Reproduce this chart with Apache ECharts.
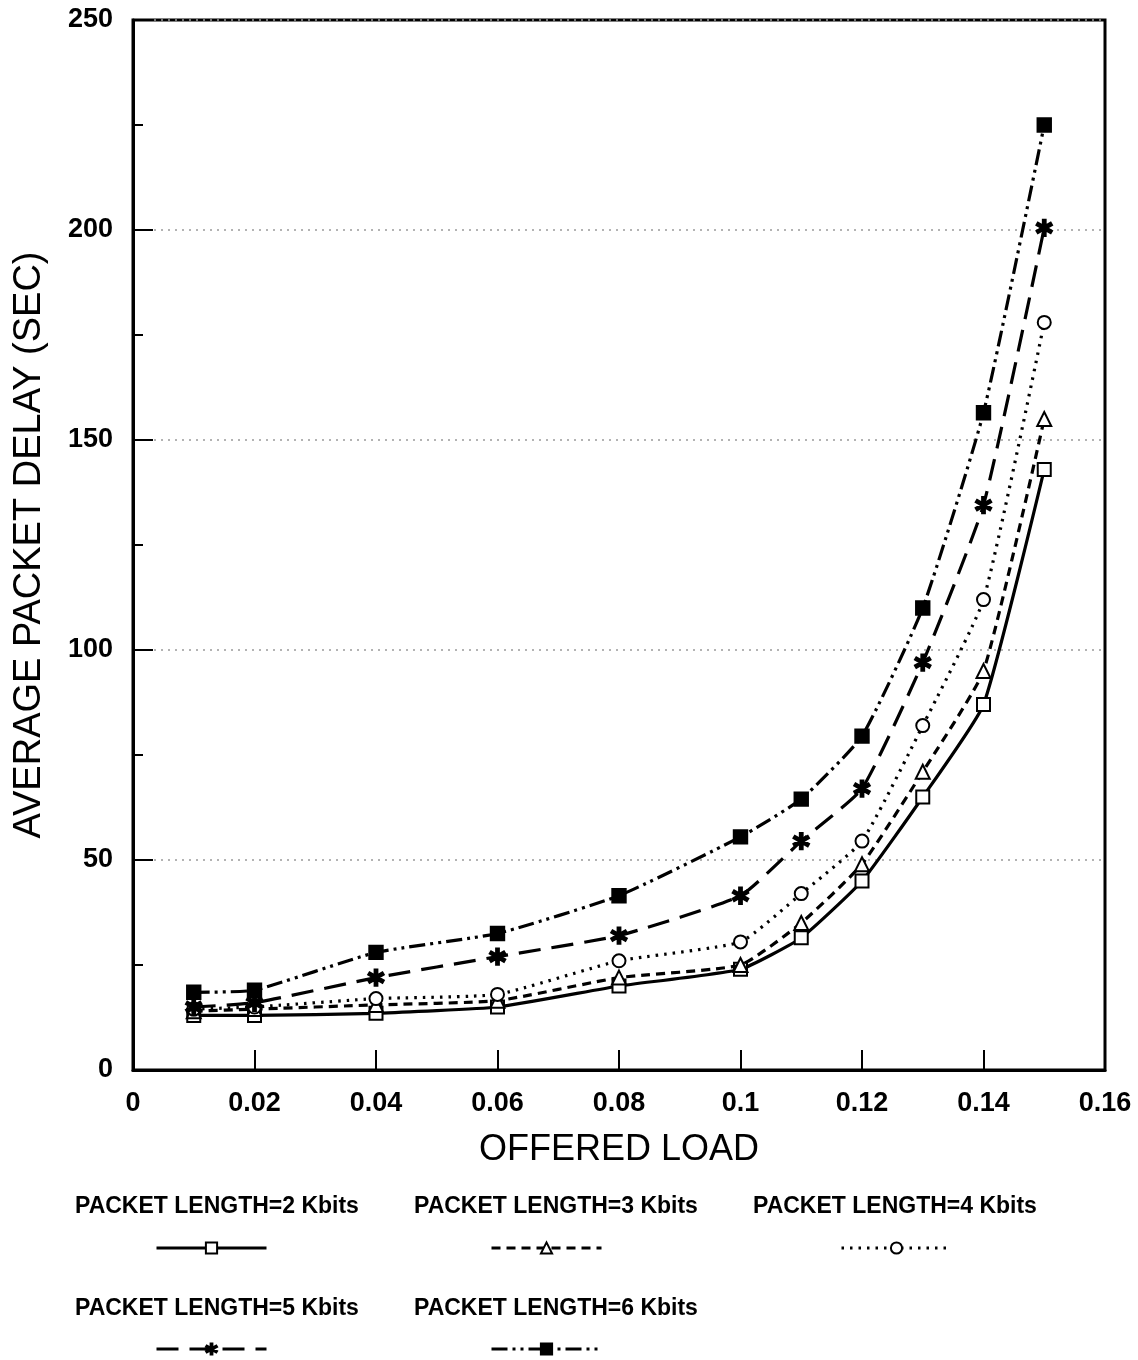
<!DOCTYPE html>
<html>
<head>
<meta charset="utf-8">
<script src="https://cdn.jsdelivr.net/npm/echarts@6/dist/echarts.min.js"></script>
<style>
  html, body { margin: 0; padding: 0; background: #fff; }
  #chart { width: 1138px; height: 1360px; }
</style>
</head>
<body>
<div id="chart"></div>
<script>
// Offered load values along the horizontal axis
const offeredLoad = [0.01, 0.02, 0.04, 0.06, 0.08, 0.10, 0.11, 0.12, 0.13, 0.14, 0.15];

// Average packet delay (sec) for each packet length
const delay2k = [13, 13, 13.5, 15, 20, 24, 31.5, 45, 65, 87, 143];
const delay3k = [14, 14.5, 15.5, 16.5, 22, 25, 35, 49, 71, 95, 155];
const delay4k = [14.5, 15, 17, 18, 26, 30.5, 42, 54.5, 82, 112, 178];
const delay5k = [15, 16, 22, 27, 32, 41.5, 54.5, 67, 97, 134.5, 200.5];
const delay6k = [18.5, 19, 28, 32.5, 41.5, 55.5, 64.5, 79.5, 110, 156.5, 225];

const seriesNames = [
  'PACKET LENGTH=2 Kbits',
  'PACKET LENGTH=3 Kbits',
  'PACKET LENGTH=4 Kbits',
  'PACKET LENGTH=5 Kbits',
  'PACKET LENGTH=6 Kbits'
];

// six-armed asterisk marker
const asterisk = 'path://M-1.2,8L1.2,8L1.2,-8L-1.2,-8Z' +
  'M6.33,5.04L7.53,2.96L-6.33,-5.04L-7.53,-2.96Z' +
  'M-7.53,2.96L-6.33,5.04L7.53,-2.96L6.33,-5.04Z';

const pairs = (ys) => offeredLoad.map((x, i) => [x, ys[i]]);

const styles = [
  { data: delay2k, symbol: 'emptyRect', size: 13, dash: 'solid' },
  { data: delay3k, symbol: 'emptyTriangle', size: 14, dash: [9, 6] },
  { data: delay4k, symbol: 'emptyCircle', size: 13, dash: [2.5, 6] },
  { data: delay5k, symbol: asterisk, size: 16, dash: [22, 11] },
  { data: delay6k, symbol: 'rect', size: 13, dash: [16, 5, 3, 5, 3, 5] }
];

const series = styles.map((s, i) => ({
  name: seriesNames[i],
  type: 'line',
  data: pairs(s.data),
  smooth: 0.15,
  symbol: s.symbol,
  symbolSize: s.size,
  symbolKeepAspect: true,
  showAllSymbol: true,
  lineStyle: { color: '#000', width: 3.2, type: s.dash },
  itemStyle: { color: '#000', borderColor: '#000', borderWidth: 2.4 },
  z: 3 + i
}));

// legend: label text above, line sample below, in a 3 + 2 arrangement
const legendPos = [
  { tx: 216, ty: 1208, lx: 155, ly: 1241 },
  { tx: 555, ty: 1208, lx: 490, ly: 1241 },
  { tx: 894, ty: 1208, lx: 840, ly: 1241 },
  { tx: 216, ty: 1310, lx: 155, ly: 1342 },
  { tx: 555, ty: 1310, lx: 490, ly: 1342 }
];

const legends = legendPos.map((p, i) => ({
  data: [seriesNames[i]],
  left: p.lx,
  top: p.ly,
  itemWidth: 110,
  itemHeight: 14,
  selectedMode: false,
  formatter: () => '',
  textStyle: { fontSize: 1 },
  lineStyle: { width: 3 },
  padding: 0
}));

const legendTexts = legendPos.map((p, i) => ({
  type: 'text',
  left: p.tx - 141,
  top: p.ty - 13,
  style: {
    text: seriesNames[i],
    fill: '#000',
    font: 'bold 23px "Liberation Sans", Arial, sans-serif'
  }
}));

const chart = echarts.init(document.getElementById('chart'));
chart.setOption({
  backgroundColor: '#fff',
  animation: false,
  grid: {
    left: 133, right: 33, top: 20, bottom: 290,
    show: true, borderColor: '#000', borderWidth: 3
  },
  xAxis: {
    type: 'value',
    min: 0, max: 0.16, interval: 0.02,
    name: 'OFFERED LOAD',
    nameLocation: 'middle',
    nameGap: 62,
    nameTextStyle: { color: '#000', fontSize: 36, fontFamily: '"Liberation Sans", Arial, sans-serif' },
    axisLine: { show: true, lineStyle: { color: '#000', width: 3 } },
    axisTick: { show: true, inside: true, length: 20, lineStyle: { color: '#000', width: 2 } },
    axisLabel: { color: '#000', fontSize: 27, fontWeight: 'bold', margin: 20, fontFamily: '"Liberation Sans", Arial, sans-serif' },
    splitLine: { show: false }
  },
  yAxis: {
    type: 'value',
    min: 0, max: 250, interval: 50,
    name: 'AVERAGE PACKET DELAY (SEC)',
    nameLocation: 'middle',
    nameGap: 84,
    nameRotate: 90,
    nameTextStyle: { color: '#000', fontSize: 38, fontFamily: '"Liberation Sans", Arial, sans-serif' },
    axisLine: { show: true, lineStyle: { color: '#000', width: 3 } },
    axisTick: { show: true, inside: true, length: 20, lineStyle: { color: '#000', width: 2 } },
    minorTick: { show: true, splitNumber: 2, length: 10, lineStyle: { color: '#000', width: 2 } },
    axisLabel: { color: '#000', fontSize: 27, fontWeight: 'bold', margin: 20, fontFamily: '"Liberation Sans", Arial, sans-serif' },
    splitLine: { show: true, lineStyle: { color: '#9a9a9a', width: 1.5, type: [2, 5] } }
  },
  legend: legends,
  graphic: legendTexts,
  series: series
});
</script>
</body>
</html>
